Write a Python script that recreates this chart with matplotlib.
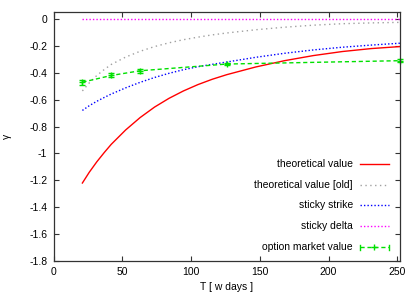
import matplotlib
matplotlib.use("Agg")
import matplotlib.pyplot as plt
from matplotlib.lines import Line2D

plt.rcParams['font.family'] = ['Liberation Sans', 'DejaVu Sans']
plt.rcParams['axes.unicode_minus'] = False

# maturities in working days
T = [21, 26, 31.5, 37, 42, 52.5, 63, 73.5, 84, 94.5, 105, 115.5, 126, 147, 168, 189, 210, 231, 252]
theo = [-1.22, -1.14, -1.062, -0.992, -0.932, -0.825, -0.733, -0.655, -0.59, -0.535, -0.488,
        -0.448, -0.414, -0.357, -0.31, -0.272, -0.242, -0.22, -0.205]
theo_old = [-0.535, -0.475, -0.42, -0.375, -0.338, -0.283, -0.24, -0.205, -0.177, -0.154, -0.135,
            -0.118, -0.104, -0.08, -0.061, -0.046, -0.035, -0.029, -0.025]
sticky_strike = [-0.68, -0.645, -0.612, -0.583, -0.558, -0.512, -0.471, -0.435, -0.404, -0.377, -0.355,
                 -0.337, -0.32, -0.285, -0.255, -0.23, -0.21, -0.194, -0.18]
sticky_delta = [-0.002] * len(T)

T_mkt = [21, 42, 63, 126, 252]
mkt = [-0.47, -0.42, -0.385, -0.335, -0.31]
mkt_err = [0.018, 0.015, 0.013, 0.01, 0.01]

labels = ['theoretical value', 'theoretical value [old]', 'sticky strike',
          'sticky delta', 'option market value']

fig = plt.figure(figsize=(4.19, 2.93), dpi=100)
ax = fig.add_axes([0.1277, 0.1092, 0.827, 0.8498])

ax.plot(T, theo, color='#ff0000', lw=1.0)
ax.plot(T, theo_old, color='#a0a0a0', lw=1.0, ls=(0, (1, 2.5)))
ax.plot(T, sticky_strike, color='#0000ff', lw=1.0, ls=(0, (1, 1.5)))
ax.plot(T, sticky_delta, color='#ff00ff', lw=1.0, ls=(0, (1, 1.5)))
ax.errorbar(T_mkt, mkt, yerr=mkt_err, color='#00e000', lw=1.0, ls=(0, (3, 2)),
            marker='+', ms=5, capsize=2, elinewidth=1.0, clip_on=False)

ax.set_xlim(0, 252)
ax.set_ylim(-1.8, 0.052)
ax.set_xticks([0, 50, 100, 150, 200, 250])
ax.set_yticks([0, -0.2, -0.4, -0.6, -0.8, -1, -1.2, -1.4, -1.6, -1.8])
ax.set_yticklabels(['0', '-0.2', '-0.4', '-0.6', '-0.8', '-1', '-1.2', '-1.4', '-1.6', '-1.8'])
ax.tick_params(direction='in', length=3.5, width=0.8, top=True, right=True,
               labelsize=7.5, pad=4.5, color='#333333')
for s in ax.spines.values():
    s.set_color('#333333')
    s.set_linewidth(0.9)

ax.set_xlabel('T [ w days ]', fontsize=7.5)
ax.set_ylabel('γ', fontsize=7.5)
ax.xaxis.set_label_coords(0.5, -0.084)
ax.yaxis.set_label_coords(-0.12, 0.5)

# gnuplot style key: right aligned text, sample to the right
styles = [dict(color='#ff0000', ls='-'),
          dict(color='#a0a0a0', ls=(0, (1, 2.5))),
          dict(color='#0000ff', ls=(0, (1, 1.5))),
          dict(color='#ff00ff', ls=(0, (1, 1.5))),
          dict(color='#00e000', ls=(0, (3, 2)))]
row_y = [0.389, 0.307, 0.225, 0.141, 0.056]
for lab, st, yy in zip(labels, styles, row_y):
    ax.text(0.864, yy, lab, transform=ax.transAxes, ha='right', va='center', fontsize=7.5)
    ax.add_line(Line2D([0.884, 0.967], [yy, yy], transform=ax.transAxes, lw=1.0, **st))
ax.add_line(Line2D([0.9255], [0.056], transform=ax.transAxes, marker='+', ms=5,
                   color='#00e000', ls='none'))
ax.add_line(Line2D([0.967, 0.967], [0.046, 0.066], transform=ax.transAxes, lw=1.0,
                   color='#00e000'))
ax.add_line(Line2D([0.884, 0.884], [0.046, 0.066], transform=ax.transAxes, lw=1.0,
                   color='#00e000'))

fig.savefig('out.png', dpi=100)
